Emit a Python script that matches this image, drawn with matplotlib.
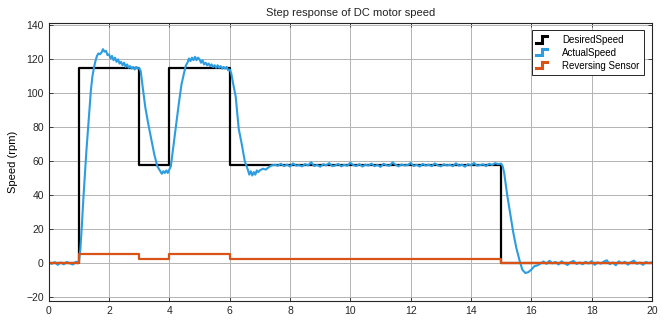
import numpy as np
import matplotlib.pyplot as plt
from matplotlib.legend_handler import HandlerBase
from matplotlib.lines import Line2D

plt.rcParams['font.family'] = ['Liberation Sans', 'DejaVu Sans']

# step signals (value holds until next time)
step_t = [0, 1, 3, 4, 6, 15, 20]
desired_v = [0, 115, 57.5, 115, 57.5, 0, 0]
sensor_v = [0, 5, 2.5, 5, 2.5, 0, 0]

idle_v = [0.3, -0.6, 0.4, -1.2, 0.2, -0.9, 0.5, -0.3, -1.0, 0.6]

trans1_t = [1.0, 1.05, 1.1, 1.15, 1.2, 1.25, 1.3, 1.35, 1.4, 1.45, 1.5, 1.55, 1.6,
            1.65, 1.7, 1.75, 1.8, 1.85, 1.9, 1.95, 2.0, 2.05, 2.1, 2.15, 2.2, 2.25,
            2.3, 2.35, 2.4, 2.45, 2.5, 2.55, 2.6, 2.65, 2.7, 2.75, 2.8, 2.85, 2.9,
            2.95, 3.0,
            3.05, 3.1, 3.2, 3.3, 3.4, 3.5, 3.6, 3.65, 3.7, 3.75, 3.8, 3.85, 3.9,
            3.95, 4.0,
            4.05, 4.1, 4.2, 4.3, 4.4, 4.5, 4.55, 4.6, 4.65, 4.7, 4.75, 4.8, 4.85,
            4.9, 4.95, 5.0, 5.05, 5.1, 5.15, 5.2, 5.25, 5.3, 5.35, 5.4, 5.45, 5.5,
            5.55, 5.6, 5.65, 5.7, 5.75, 5.8, 5.85, 5.9, 5.95, 6.0,
            6.05, 6.1, 6.2, 6.3, 6.4, 6.5, 6.6, 6.65, 6.7, 6.75, 6.8, 6.85, 6.9,
            6.95, 7.0, 7.1, 7.2, 7.3, 7.4]
trans1_v = [0.5, 8, 22, 38, 52, 66, 78, 90, 102, 110, 115, 119, 122,
            123.5, 123, 124, 126, 124.5, 125, 122.5, 123, 120.5, 122, 119.5, 121, 118.5,
            120, 117.5, 118.5, 116.5, 118, 115.5, 117, 115, 116, 114.5, 115.5, 114, 115.5,
            114.5, 115,
            113, 106, 92, 82, 73, 64, 57, 55.5, 54, 52.5, 54, 53, 54.5,
            53, 55,
            57, 64, 78, 92, 105, 113, 116.5, 118, 120.5, 119, 121, 119.5, 121.5,
            119.5, 121, 120, 118, 119.5, 117, 118, 116.5, 117.5, 116, 117, 115.5, 116.5,
            115, 116.5, 115, 116, 114.5, 115.5, 114.5, 115.5, 113.5, 114,
            112, 107, 98, 79, 70, 60, 55, 52, 54, 51.5, 53.5, 52, 54.5,
            53.5, 54.5, 55.5, 55, 56.5, 57.5]

steady_v = [57.8, 57.2, 58.4, 57.0, 57.9, 56.8, 58.6, 57.3, 57.6, 56.9,
            58.2, 57.4, 59.3, 57.1, 57.7, 56.7, 58.1, 57.5, 58.8, 57.0,
            57.4, 58.3, 56.9, 57.8, 57.2, 59.0, 57.6, 57.1, 58.2, 56.8,
            57.9, 57.3, 58.5, 57.0, 57.7, 56.6, 58.4, 57.5, 57.2, 59.2,
            57.8, 56.9, 58.0, 57.4, 57.6, 58.9, 57.1, 57.8, 56.8, 58.3,
            57.3, 57.9, 57.0, 58.6, 57.5, 56.9, 58.1, 57.4, 57.8, 57.0,
            58.7, 57.2, 57.9, 56.7, 58.2, 57.5, 58.9, 57.3, 57.6, 58.1,
            57.0, 58.4, 57.7, 58.8, 58.2]

trans2_t = [15.0, 15.05, 15.1, 15.2, 15.3, 15.4, 15.5, 15.6, 15.7, 15.8, 15.9,
            16.0, 16.1, 16.2, 16.3]
trans2_v = [58.5, 57, 53, 40, 29, 18, 9, 2, -4, -6, -5.5, -4, -2, -1.5, -0.5]

tail_v = [0.8, -0.6, 1.2, -0.3, 0.5, -1.0, 0.9, -0.2, -1.3, 0.4,
          1.1, -0.7, 0.2, -0.9, 0.6, -0.4, 1.0, -1.2, 0.3, -0.5,
          0.7, 1.5, -0.8, 0.2, -1.4, 0.9, -0.3, 0.6, -1.1, 0.4,
          1.3, -0.6, 0.1, -1.2, 0.5, -0.2, 0.3]

act_t = np.concatenate([np.arange(len(idle_v)) * 0.1, trans1_t,
                        7.5 + np.arange(len(steady_v)) * 0.1, trans2_t,
                        16.4 + np.arange(len(tail_v)) * 0.1])
act_v = np.concatenate([idle_v, trans1_v, steady_v, trans2_v, tail_v])


class StepHandler(HandlerBase):
    # MATLAB style stairs icon in the legend
    def create_artists(self, legend, orig_handle, xdescent, ydescent,
                       width, height, fontsize, trans):
        x0, x1 = -xdescent, -xdescent + width
        xm = (x0 + x1) / 2
        y0, y1 = -ydescent + 0.05 * height, -ydescent + 0.95 * height
        ln = Line2D([x0, xm, xm, x1], [y0, y0, y1, y1],
                    color=orig_handle.get_color(), lw=2.2, transform=trans,
                    solid_joinstyle='miter')
        return [ln]


fig = plt.figure(figsize=(6.67, 3.2), dpi=100)
ax = fig.add_axes([0.073, 0.06, 0.9045, 0.869])

l1, = ax.plot(step_t, desired_v, drawstyle='steps-post', color='black', lw=1.6,
              label='DesiredSpeed')
l2, = ax.plot(act_t, act_v, color='#2b9de0', lw=1.5, label='ActualSpeed')
l3, = ax.plot(step_t, sensor_v, drawstyle='steps-post', color='#d95319', lw=1.6,
              label='Reversing Sensor')

ax.set_xlim(0, 20)
ax.set_ylim(-22.4, 141.6)
ax.set_xticks(range(0, 21, 2))
ax.set_yticks(range(-20, 141, 20))
ax.grid(True, color='#b3b3b3', lw=0.7)
ax.set_axisbelow(True)
ax.tick_params(direction='in', top=True, right=True, labelsize=7.5,
               length=3, width=0.6, colors='#262626')
for sp in ax.spines.values():
    sp.set_linewidth(0.8)
    sp.set_color('#262626')

ax.set_title('Step response of DC motor speed', fontsize=8, pad=5, color='#222222')
ax.set_ylabel('Speed (rpm)', fontsize=8, labelpad=6)

leg = ax.legend(handles=[l1, l2, l3], loc='upper right', fontsize=7,
                handler_map={Line2D: StepHandler()}, fancybox=False,
                framealpha=1, edgecolor='#262626', handlelength=1.1,
                handletextpad=1.6, borderpad=0.45, labelspacing=0.3,
                borderaxespad=0.8)
leg.get_frame().set_linewidth(0.7)

fig.savefig('out.png', dpi=100)
